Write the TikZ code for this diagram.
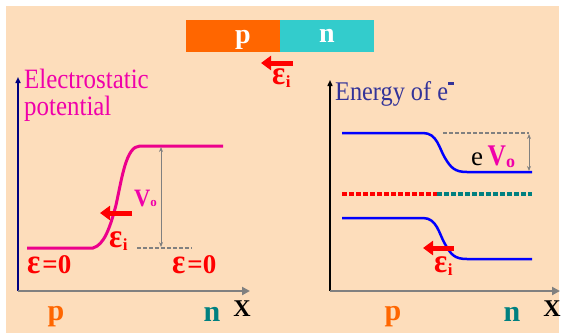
\documentclass[tikz,border=0pt]{standalone}
\usepackage{fontspec}
\setmainfont{Liberation Serif}
\usetikzlibrary{arrows.meta}
\definecolor{peach}{RGB}{253,221,187}
\definecolor{porange}{RGB}{255,102,0}
\definecolor{ncyan}{RGB}{51,204,204}
\definecolor{pinkm}{RGB}{240,0,170}
\definecolor{navyt}{RGB}{51,51,153}
\definecolor{tealn}{RGB}{0,128,128}
\definecolor{axnavy}{RGB}{0,0,128}
\definecolor{grayl}{RGB}{128,128,128}
\definecolor{bandblue}{RGB}{0,0,255}
\newcommand\fs[1]{\fontsize{#1}{#1}\selectfont}
\newcommand\epsG{\scalebox{1.1}[1.2]{ε}}
\newcommand\epsI{{\fs{28}\bfseries\color{red}\epsG\kern0.5pt\raisebox{-3pt}{\fs{17}i}}}
\newcommand\epsZ{{\fs{27}\bfseries\color{red}\scalebox{1.15}[1.3]{ε}\kern2pt=0}}
\begin{document}
\begin{tikzpicture}[x=1pt,y=-1pt,
  lbl/.style={inner sep=0pt, anchor=base},
  lblw/.style={inner sep=0pt, anchor=base west},
  epsarrow/.style={draw=red, line width=5pt, -{Triangle[length=10pt,width=14pt]}},
  band/.style={draw=bandblue, line width=2.5pt},
  dimarrow/.style={draw=grayl, line width=1pt, {Stealth[length=5pt,width=4pt]}-{Stealth[length=5pt,width=4pt]}},
  dimdash/.style={draw=grayl, line width=1.2pt, dash pattern=on 4pt off 2pt},
  fermi/.style={line width=4pt, dash pattern=on 4.5pt off 2.5pt},
  xaxis/.style={draw=grayl, line width=2.5pt, -{Triangle[length=8pt,width=8pt]}},
  semibox/.style={minimum width=94pt, minimum height=32pt, inner sep=0pt, anchor=north west},
  bigp/.style={lbl, font=\fs{30}\bfseries, text=porange},
  bign/.style={lbl, font=\fs{30}\bfseries, text=tealn},
  bigx/.style={lbl, font=\fs{24}\bfseries, text=black}]
\useasboundingbox (0,0) rectangle (561,335);
\fill[peach] (6,6) rectangle (559,333);
% p-n bar
\node[semibox, fill=porange] (pbox) at (186,20) {};
\node[semibox, fill=ncyan] (nbox) at (280,20) {};
\node[lbl, font=\fs{28}\bfseries, text=white] (ptop) at (243,43) {p};
\node[lbl, font=\fs{28}\bfseries, text=white] (ntop) at (327,42) {n};
\coordinate (ta1) at (293,63);
\coordinate (ta2) at (261,63);
\draw[epsarrow] (ta1) -- (ta2);
\node[lblw] (epstop) at (272,84) {\epsI};
% ---------- left plot ----------
\coordinate (Lo) at (18,291);
\coordinate (Ly) at (18,77);
\coordinate (Lx) at (250,291);
\draw[axnavy, line width=1.6pt, -{Triangle[length=6pt,width=5pt]}] (Lo) -- (Ly);
\draw[xaxis] (Lo) -- (Lx);
\node[lblw, font=\fs{28}, text=pinkm] (el1) at (24,88) {\scalebox{0.89}[1]{Electrostatic}};
\node[lblw, font=\fs{28}, text=pinkm] (el2) at (24,115) {\scalebox{0.89}[1]{potential}};
\coordinate (c0) at (27,248);
\coordinate (c1) at (93,248);
\coordinate (c2) at (116,205);
\coordinate (c3) at (140,146);
\coordinate (c4) at (223,146);
\draw[magenta, line width=3pt] (c0) -- (c1) .. controls (104,245) and (110,228) .. (c2) .. controls (122,178) and (126,146) .. (c3) -- (c4);
\coordinate (d1) at (137,248);
\coordinate (d2) at (192,248);
\draw[dimdash] (d1) -- (d2);
\coordinate (v1) at (161,147);
\coordinate (v2) at (161,247);
\draw[dimarrow] (v1) -- (v2);
\node[lblw, text=pinkm] (vo) at (134,206) {\fs{25}\bfseries\scalebox{0.9}[1]{V}\fs{13}o};
\coordinate (la1) at (132,213);
\coordinate (la2) at (100,213);
\draw[epsarrow] (la1) -- (la2);
\node[lblw] (epsL) at (109,247) {\epsI};
\node[lblw] (ez1) at (27,273) {\epsZ};
\node[lblw] (ez2) at (172,273) {\epsZ};
\node[bigp] (pL) at (56,320) {p};
\node[bign] (nL) at (212,321) {n};
\node[bigx] (xL) at (242,316) {X};
% ---------- right plot ----------
\coordinate (Ro) at (330,291);
\coordinate (Ry) at (330,80);
\coordinate (Rx) at (560,291);
\draw[black, line width=1.4pt, -{Triangle[length=6pt,width=5pt]}] (Ro) -- (Ry);
\draw[xaxis] (Ro) -- (Rx);
\node[lblw, font=\fs{27}, text=navyt] (en) at (335,100) {\scalebox{0.9}[1]{Energy of e}\raisebox{15pt}{\rule{6pt}{3pt}}};
\coordinate (u0) at (342,133);
\coordinate (u1) at (423,133);
\coordinate (u2) at (445,158);
\coordinate (u3) at (467,172);
\coordinate (u4) at (532,172);
\draw[band] (u0) -- (u1) .. controls (437,133) and (439,148) .. (u2) .. controls (451,168) and (455,172) .. (u3) -- (u4);
\coordinate (w0) at (342,218);
\coordinate (w1) at (423,218);
\coordinate (w2) at (445,244);
\coordinate (w3) at (467,259);
\coordinate (w4) at (532,259);
\draw[band] (w0) -- (w1) .. controls (437,218) and (439,234) .. (w2) .. controls (451,255) and (455,259) .. (w3) -- (w4);
\coordinate (f0) at (342,194);
\coordinate (f1) at (437,194);
\coordinate (f2) at (532,194);
\draw[fermi, red] (f0) -- (f1);
\draw[fermi, tealn] (f1) -- (f2);
\coordinate (g1) at (443,133);
\coordinate (g2) at (529,133);
\draw[dimdash] (g1) -- (g2);
\coordinate (h1) at (529,134);
\coordinate (h2) at (529,171);
\draw[dimarrow] (h1) -- (h2);
\node[lblw] (evo) at (471,165) {\fs{27}e\,{\color{pinkm}\bfseries\scalebox{0.85}[1]{\fs{30}V}\raisebox{-2pt}{\fs{18}o}}};
\coordinate (ra1) at (454,248);
\coordinate (ra2) at (423,248);
\draw[epsarrow] (ra1) -- (ra2);
\node[lblw] (epsR) at (434,272) {\epsI};
\node[bigp] (pR) at (393,320) {p};
\node[bign] (nR) at (512,321) {n};
\node[bigx] (xR) at (552,316) {X};
\end{tikzpicture}
\end{document}
